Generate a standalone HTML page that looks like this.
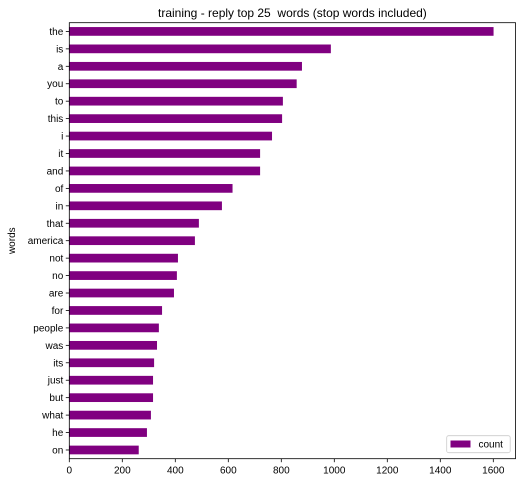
<!DOCTYPE html>
<html><head><meta charset="utf-8"><style>
body{margin:0;background:#fff;}
svg{display:block;font-family:"Liberation Sans","DejaVu Sans",sans-serif;}
text{white-space:pre;}
</style></head><body>
<svg id="chart" width="522" height="482"></svg>
<script>
const categories=["the","is","a","you","to","this","i","it","and","of","in","that","america","not","no","are","for","people","was","its","just","but","what","he","on"];
const counts=[1601,987,878,858,806,803,765,720,720,616,576,489,474,410,406,395,350,338,331,320,316,316,308,293,262];
const xTicks=[0,200,400,600,800,1000,1200,1400,1600];
const NS="http://www.w3.org/2000/svg";
const svg=document.getElementById('chart');
const L=69.3,R=515.5,T=22.7,B=458.7;
const xs=v=>L+v*(424/1600);
const band=(B-T)/categories.length;
const yc=i=>T+band*(i+0.5);
function mk(t,a){const e=document.createElementNS(NS,t);for(const k in a)e.setAttribute(k,a[k]);svg.appendChild(e);return e;}
let t=mk('text',{x:(L+R)/2,y:17,'text-anchor':'middle','font-size':12,fill:'#000'});t.textContent="training - reply top 25  words (stop words included)";


categories.forEach((c,i)=>{
  const r=mk('rect',{x:L,y:yc(i)-band*0.25,width:xs(counts[i])-L,height:band*0.5,fill:'#800080'});
  
  
  const tk=mk('line',{x1:L-3.5,x2:L,y1:yc(i),y2:yc(i),stroke:'#000','stroke-width':0.8});
  
  
  const lb=mk('text',{x:L-6,y:yc(i)+3.5,'text-anchor':'end','font-size':10,fill:'#000'});lb.textContent=c;
  
  
});
xTicks.forEach(v=>{
  const tk=mk('line',{x1:xs(v),x2:xs(v),y1:B,y2:B+3.5,stroke:'#000','stroke-width':0.8});
  
  
  const lb=mk('text',{x:xs(v),y:B+15,'text-anchor':'middle','font-size':10,fill:'#000'});lb.textContent=v;
  
  
});
const fr=mk('rect',{x:L,y:T,width:R-L,height:B-T,fill:'none',stroke:'#000','stroke-width':0.8});


const yl=mk('text',{x:0,y:0,transform:`translate(15,${(T+B)/2}) rotate(-90)`,'text-anchor':'middle','font-size':10,fill:'#000'});yl.textContent="words";


const lg=mk('rect',{x:446.7,y:435.7,width:63.5,height:17,rx:2,fill:'#fff',stroke:'#ccc','stroke-width':0.8});


const lp=mk('rect',{x:450.5,y:440.5,width:20,height:7,fill:'#800080'});


const lt=mk('text',{x:478.5,y:447.5,'font-size':10,fill:'#000'});lt.textContent="count";


</script>
</body></html>
